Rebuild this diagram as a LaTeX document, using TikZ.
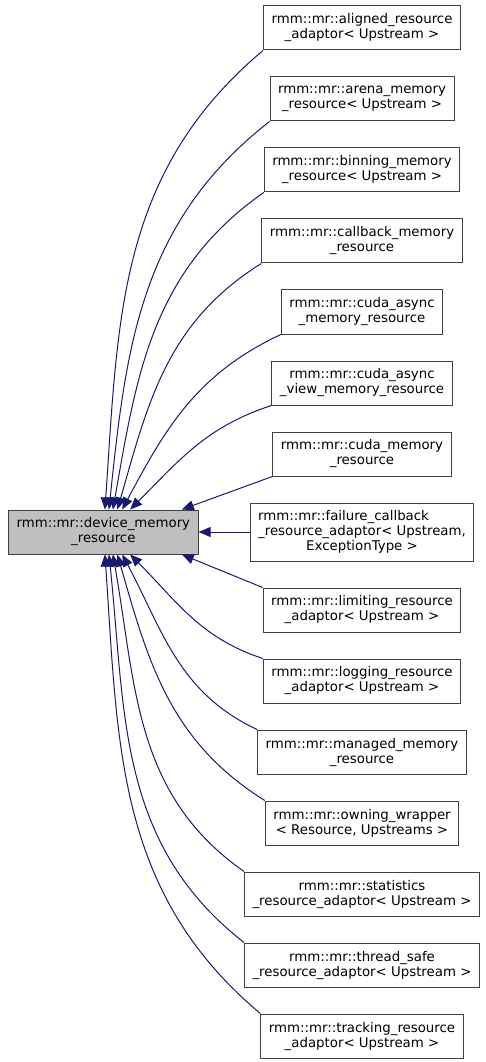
\documentclass[tikz,border=0pt]{standalone}
\usepackage{fontspec}
\setmainfont{DejaVu Sans}
\usetikzlibrary{positioning,arrows.meta}
\definecolor{edgeblue}{HTML}{191970}
\definecolor{boxline}{HTML}{404040}
\definecolor{basefill}{HTML}{BFBFBF}
\tikzset{
  cls/.style={draw=boxline, line width=0.75pt, align=center, inner xsep=6pt, inner ysep=0pt,
    minimum height=33pt, font=\fontsize{10}{11.25}\selectfont},
  basecls/.style={cls, fill=basefill},
}
\begin{document}
\begin{tikzpicture}[x=0.75pt,y=0.75pt,->,>={Triangle[length=9pt,width=7.5pt]},node distance=19.5pt,
    every edge/.style={draw=edgeblue, line width=0.75pt}]
        \useasboundingbox (0,0) rectangle (485,-1062);
        \node[cls](aligned) at (362,-28){rmm::mr::aligned\_resource\\\_adaptor< Upstream >};
        \node[cls](arena)[below=of aligned]{rmm::mr::arena\_memory\\\_resource< Upstream >};
        \node[cls](binning)[below=of arena]{rmm::mr::binning\_memory\\\_resource< Upstream >};
        \node[cls](callback)[below=of binning]{rmm::mr::callback\_memory\\\_resource};
        \node[cls](async)[below=of callback]{rmm::mr::cuda\_async\\\_memory\_resource};
        \node[cls](asyncview)[below=of async]{rmm::mr::cuda\_async\\\_view\_memory\_resource};
        \node[cls](cudamr)[below=of asyncview]{rmm::mr::cuda\_memory\\\_resource};
        \node[cls,minimum height=43.5pt](failure)[below=of cudamr]{\rlap{rmm::mr::failure\_callback}\phantom{\_resource\_adaptor< Upstream,}\\\_resource\_adaptor< Upstream,\\ExceptionType >};
        \node[cls](limiting)[below=of failure]{rmm::mr::limiting\_resource\\\_adaptor< Upstream >};
        \node[cls](logging)[below=of limiting]{rmm::mr::logging\_resource\\\_adaptor< Upstream >};
        \node[cls](managed)[below=of logging]{rmm::mr::managed\_memory\\\_resource};
        \node[cls](owning)[below=of managed]{rmm::mr::owning\_wrapper\\< Resource, Upstreams >};
        \node[cls](stats)[below=of owning]{rmm::mr::statistics\\\_resource\_adaptor< Upstream >};
        \node[cls](tsafe)[below=of stats]{rmm::mr::thread\_safe\\\_resource\_adaptor< Upstream >};
        \node[cls](tracking)[below=of tsafe]{rmm::mr::tracking\_resource\\\_adaptor< Upstream >};
        \node[basecls](dmr)[left=38.25pt of failure]{rmm::mr::device\_memory\\\_resource};
        % upper children
        \path (aligned.south west) edge[out=220,in=86] (dmr.86);
        \path (arena.south west) edge[out=218,in=84] (dmr.76);
        \path (binning.south west) edge[out=215,in=80] (dmr.67);
        \path (callback.south west) edge[out=212,in=74] (dmr.58);
        \path (async.south west) edge[out=205,in=62] (dmr.50);
        \path (asyncview.south west) edge[out=198,in=45] (dmr.40);
        \path (cudamr.south west) edge (dmr.16);
        \path (failure) edge (dmr);
        % lower children
        \path (limiting.north west) edge (dmr.-16);
        \path (logging.north west) edge[out=162,in=-45] (dmr.-40);
        \path (managed.north west) edge[out=155,in=-62] (dmr.-50);
        \path (owning.north west) edge[out=148,in=-74] (dmr.-58);
        \path (stats.north west) edge[out=145,in=-80] (dmr.-67);
        \path (tsafe.north west) edge[out=142,in=-84] (dmr.-76);
        \path (tracking.north west) edge[out=140,in=-86] (dmr.-86);
    \end{tikzpicture}
\end{document}
